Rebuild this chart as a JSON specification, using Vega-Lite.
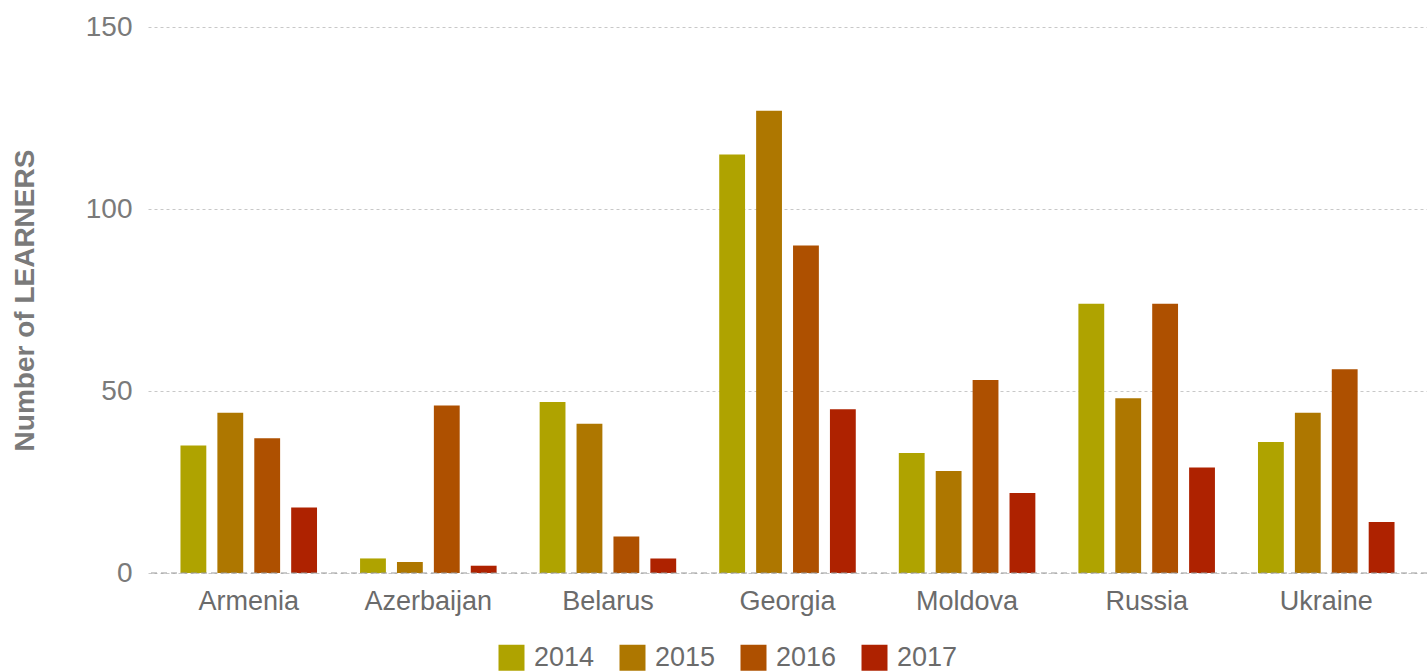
{
  "$schema": "https://vega.github.io/schema/vega-lite/v6.json",
  "width": 1279,
  "height": 546,
  "autosize": {"type": "none"},
  "padding": {"left": 148, "top": 27, "right": 0, "bottom": 98},
  "background": "white",
  "config": {
    "view": {"stroke": null},
    "font": "Liberation Sans"
  },
  "data": {
    "values": [
      {"country": "Armenia", "year": "2014", "learners": 35},
      {"country": "Armenia", "year": "2015", "learners": 44},
      {"country": "Armenia", "year": "2016", "learners": 37},
      {"country": "Armenia", "year": "2017", "learners": 18},
      {"country": "Azerbaijan", "year": "2014", "learners": 4},
      {"country": "Azerbaijan", "year": "2015", "learners": 3},
      {"country": "Azerbaijan", "year": "2016", "learners": 46},
      {"country": "Azerbaijan", "year": "2017", "learners": 2},
      {"country": "Belarus", "year": "2014", "learners": 47},
      {"country": "Belarus", "year": "2015", "learners": 41},
      {"country": "Belarus", "year": "2016", "learners": 10},
      {"country": "Belarus", "year": "2017", "learners": 4},
      {"country": "Georgia", "year": "2014", "learners": 115},
      {"country": "Georgia", "year": "2015", "learners": 127},
      {"country": "Georgia", "year": "2016", "learners": 90},
      {"country": "Georgia", "year": "2017", "learners": 45},
      {"country": "Moldova", "year": "2014", "learners": 33},
      {"country": "Moldova", "year": "2015", "learners": 28},
      {"country": "Moldova", "year": "2016", "learners": 53},
      {"country": "Moldova", "year": "2017", "learners": 22},
      {"country": "Russia", "year": "2014", "learners": 74},
      {"country": "Russia", "year": "2015", "learners": 48},
      {"country": "Russia", "year": "2016", "learners": 74},
      {"country": "Russia", "year": "2017", "learners": 29},
      {"country": "Ukraine", "year": "2014", "learners": 36},
      {"country": "Ukraine", "year": "2015", "learners": 44},
      {"country": "Ukraine", "year": "2016", "learners": 56},
      {"country": "Ukraine", "year": "2017", "learners": 14}
    ]
  },
  "layer": [
    {
      "mark": {"type": "bar"},
      "encoding": {
        "x": {
          "field": "country",
          "type": "nominal",
          "sort": null,
          "scale": {"paddingInner": 0.178, "paddingOuter": 0.15},
          "axis": {
            "title": null,
            "labelAngle": 0,
            "labelFontSize": 27,
            "labelColor": "#6b6b6b",
            "labelPadding": 15,
            "ticks": false,
            "domain": false
          }
        },
        "xOffset": {
          "field": "year",
          "type": "nominal",
          "scale": {"paddingInner": 0.3, "paddingOuter": 0.15}
        },
        "y": {
          "field": "learners",
          "type": "quantitative",
          "scale": {"domain": [0, 150], "nice": false},
          "axis": {
            "title": "Number of LEARNERS",
            "titleFontSize": 28,
            "titleFontWeight": "bold",
            "titleColor": "#7a7a7a",
            "titlePadding": 46,
            "values": [0, 50, 100, 150],
            "labelFontSize": 28,
            "labelColor": "#7a7a7a",
            "labelPadding": 16,
            "ticks": false,
            "domain": false,
            "grid": true,
            "gridColor": "#c8c8c8",
            "gridDash": [3, 3],
            "gridWidth": 1
          }
        },
        "color": {
          "field": "year",
          "type": "nominal",
          "scale": {
            "domain": ["2014", "2015", "2016", "2017"],
            "range": ["#afa300", "#ae7700", "#ae5000", "#ae2200"]
          },
          "legend": {
            "title": null,
            "orient": "none",
            "legendX": 350,
            "legendY": 617,
            "direction": "horizontal",
            "symbolType": "square",
            "symbolSize": 676,
            "symbolStrokeWidth": 0,
            "labelFontSize": 27,
            "labelColor": "#6b6b6b",
            "labelOffset": 9,
            "columnPadding": 24
          }
        }
      }
    },
    {
      "data": {"values": [{"v": 0}]},
      "mark": {"type": "rule", "color": "#999999", "strokeDash": [6, 4], "strokeWidth": 1.2},
      "encoding": {"y": {"field": "v", "type": "quantitative"}}
    }
  ]
}
